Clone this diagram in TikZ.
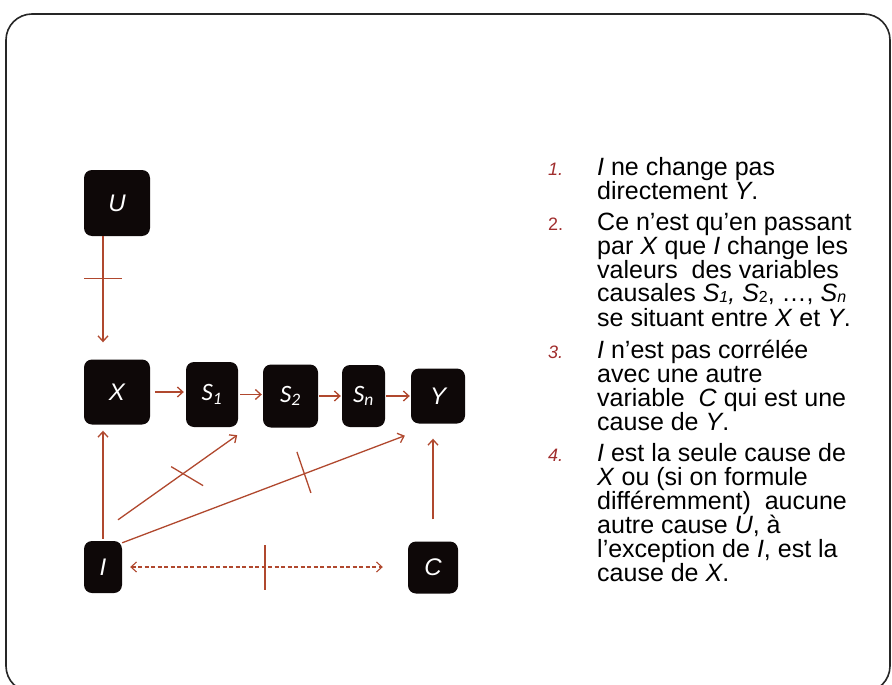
\documentclass[tikz,border=0pt]{standalone}
\usepackage{fontspec}
\setmainfont{Liberation Sans}
\newfontfamily\calib{Carlito}
\usetikzlibrary{arrows.meta,calc}
\definecolor{arrowred}{RGB}{176,72,46}
\definecolor{numred}{RGB}{160,45,45}
\definecolor{boxblack}{RGB}{14,8,8}
\newcommand{\lowsub}[1]{\raisebox{-0.06em}{\fontsize{16}{16}\selectfont #1}}
\begin{document}
\begin{tikzpicture}[x=1pt,y=-1pt,
  box/.style={draw=none, fill=boxblack, rounded corners=8pt, text=white, inner sep=0pt,
    font=\fontsize{24}{24}\selectfont\itshape},
  sbox/.style={box, font=\calib\fontsize{25}{25}\selectfont\itshape},
  arr/.style={draw=arrowred, line width=1.3pt, -{Straight Barb[length=5.5pt,width=10pt]}},
  darr/.style={draw=arrowred, line width=1.1pt, dash pattern=on 4pt off 2.5pt,
    {Straight Barb[length=5.5pt,width=10pt]}-{Straight Barb[length=5.5pt,width=10pt]}},
  tick/.style={draw=arrowred, line width=1.3pt},
  txt/.style={anchor=base west, inner sep=0pt, font=\fontsize{25}{25}\selectfont},
  num/.style={anchor=base west, inner sep=0pt, text=numred, font=\fontsize{18}{18}\selectfont},
]
\useasboundingbox (0,0) rectangle (892,685);
\draw[line width=1.6pt, draw=black!85, rounded corners=26pt] (6,14) rectangle (890,692);

% nodes
\node[box, minimum width=66pt, minimum height=66pt] (U) at (117,203) {U};
\node[box, minimum width=66pt, minimum height=65pt] (X) at (117,392) {X};
\node[sbox, minimum width=52pt, minimum height=65pt] (S1) at (212,394.5) {S\textsubscript{1}};
\node[sbox, minimum width=55pt, minimum height=63pt] (S2) at (290.5,396) {S\textsubscript{2}};
\node[sbox, minimum width=43pt, minimum height=62pt] (Sn) at (363.5,396) {S\textsubscript{n}};
\node[box, minimum width=54pt, minimum height=55pt] (Y) at (438,396) {Y};
\node[box, minimum width=38pt, minimum height=52pt] (I) at (103,567) {I};
\node[box, minimum width=50pt, minimum height=52pt] (C) at (433,567.5) {C};

% chain
\draw[arr, shorten <=5pt, shorten >=2pt] (X.east) -- (X.east -| S1.west);
\draw[arr, shorten <=2pt, shorten >=1pt] (S1.east) -- (S1.east -| S2.west);
\draw[arr, shorten <=1pt, shorten >=1pt] (S2.east) -- (S2.east -| Sn.west);
\draw[arr, shorten <=1pt, shorten >=1pt] (Sn.east) -- (Sn.east -| Y.west);

% U -> X
\draw[arr, shorten >=17pt] (I |- U.south) -- (I |- X.north);
\path (I |- U.south) ++(0,42) coordinate (tU);
\draw[tick] ($(tU)+(-19,0)$) -- ($(tU)+(19,0)$);

% I -> X
\draw[arr, shorten <=2pt, shorten >=6pt] (I.north) -- (I.north |- X.south);

% I -> S1
\coordinate (iS1a) at ($(I.north)+(15,-21)$);
\coordinate (iS1b) at ($(S1.south east)+(-1,8)$);
\draw[arr] (iS1a) -- (iS1b);
\path (iS1a) -- (iS1b) coordinate[pos=0.546] (tS1);
\draw[tick] ($(tS1)+(-12,-7)$) -- ($(tS1)+(20,12)$);

% I -> Y
\coordinate (iYa) at ($(I.north east)+(0,2)$);
\coordinate (iYb) at ($(Y.south west)+(-6,12)$);
\draw[arr] (iYa) -- (iYb);
\path (iYa) -- (iYb) coordinate[pos=0.643] (tY);
\draw[tick] ($(tY)+(-7,-22)$) -- ($(tY)+(7,19)$);

% C -> Y
\draw[arr, shorten <=22pt, shorten >=15pt] (C.north) -- (C.north |- Y.south);

% I <-> C
\draw[darr, shorten <=8pt, shorten >=25pt] (I.east) -- (I.east -| C.west);
\path (I.east) -- (I.east -| C.west) coordinate[midway] (tIC);
\draw[tick] ($(tIC)+(0,-22)$) -- ($(tIC)+(0,23)$);

% text
\node[num] (n1) at (548,175) {\itshape 1.};
\node[txt] (t1a) at (597,175) {\textit{I} ne change pas};
\node[txt] (t1b) at (597,199) {directement \textit{Y}.};

\node[num] (n2) at (548,230) {2.};
\node[txt] (t2a) at (597,230) {Ce n'est qu'en passant};
\node[txt] (t2b) at (597,254) {par \textit{X} que \textit{I} change les};
\node[txt] (t2c) at (597,278) {valeurs\ \ des variables};
\node[txt] (t2d) at (597,301) {causales \textit{S\lowsub{1},} \textit{S}\lowsub{2}, \dots, \textit{S\lowsub{n}}};
\node[txt] (t2e) at (597,326) {se situant entre \textit{X} et \textit{Y}.};

\node[num] (n3) at (548,358) {\itshape 3.};
\node[txt] (t3a) at (597,358) {\textit{I} n'est pas corrélée};
\node[txt] (t3b) at (597,382) {avec une autre};
\node[txt] (t3c) at (597,406) {variable\ \ \textit{C} qui est une};
\node[txt] (t3d) at (597,430) {cause de \textit{Y}.};

\node[num] (n4) at (548,461) {\itshape 4.};
\node[txt] (t4a) at (597,461) {\textit{I} est la seule cause de};
\node[txt] (t4b) at (597,485) {\textit{X} ou (si on formule};
\node[txt] (t4c) at (597,509) {différemment)\ \ aucune};
\node[txt] (t4d) at (597,533) {autre cause \textit{U}, à};
\node[txt] (t4e) at (597,557) {l'exception de \textit{I}, est la};
\node[txt] (t4f) at (597,581) {cause de \textit{X}.};
\end{tikzpicture}
\end{document}
